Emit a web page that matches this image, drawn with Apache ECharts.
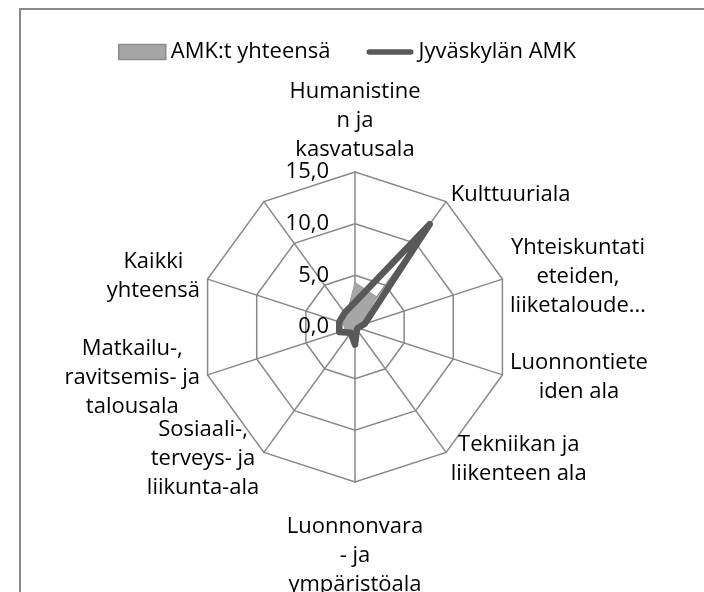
<!DOCTYPE html>
<html>
<head>
<meta charset="utf-8">
<script src="https://cdn.jsdelivr.net/npm/echarts@6/dist/echarts.min.js"></script>
<style>
  html, body { margin: 0; padding: 0; background: #fff; }
  #chart { width: 704px; height: 592px; position: absolute; left: 0; top: 0; }
  #frame { position: absolute; left: 19px; top: 8px; width: 700px; height: 600px;
           border-top: 2px solid #8a8a8a; border-left: 2px solid #8a8a8a; pointer-events: none; }
</style>
</head>
<body>
<div id="chart"></div>
<div id="frame"></div>
<script>
// Categories in clockwise order, starting at the top
const categories = [
  'Humanistine\nn ja\nkasvatusala',
  'Kulttuuriala',
  'Yhteiskuntati\neteiden,\nliiketaloude…',
  'Luonnontiete\niden ala',
  'Tekniikan ja\nliikenteen ala',
  'Luonnonvara\n- ja\nympäristöala',
  'Sosiaali-,\nterveys- ja\nliikunta-ala',
  'Matkailu-,\nravitsemis- ja\ntalousala',
  'Kaikki\nyhteensä',
  ''
];
const seriesNames = ['AMK:t yhteensä', 'Jyväskylän AMK'];
const amkYhteensa = [4.3, 3.6, 0.6, 0.5, 0.7, 0.6, 1.0, 1.0, 1.2, 1.4];
const jyvaskyla   = [2.4, 12.3, 1.0, 0.3, 0.3, 1.7, 0.7, 1.6, 1.6, 1.7];
const axisMin = 0;
const axisMax = 15;
const axisInterval = 5;

// ECharts lays indicators counter-clockwise; reorder so the chart reads clockwise
const order = [0].concat(categories.map((_, i) => i).slice(1).reverse());
const pick = arr => order.map(i => arr[i]);

const FONT = 'Open Sans';
const FS = 22;
const indicators = pick(categories).map((name, k) => {
  const ind = { name: name, min: axisMin, max: axisMax, interval: axisInterval };
  if (k === 0) ind.axisLabel = { show: true };
  return ind;
});

const chart = echarts.init(document.getElementById('chart'), null, { renderer: 'canvas' });
chart.setOption({
  animation: false,
  backgroundColor: '#fff',
  textStyle: { fontFamily: FONT },
  legend: {
    top: 36,
    left: 113,
    itemWidth: 47,
    itemHeight: 15,
    itemGap: 36,
    textStyle: { fontFamily: FONT, fontSize: FS, color: '#000' },
    data: [
      { name: seriesNames[0], icon: 'rect',
        itemStyle: { color: '#a6a6a6', borderColor: '#8c8c8c', borderWidth: 1.5 } },
      { name: seriesNames[1],
        icon: 'path://M3,0 L48,0 A3,3 0 0 1 48,6 L3,6 A3,3 0 0 1 3,0 Z',
        itemStyle: { color: '#595959', borderWidth: 0 } }
    ]
  },
  radar: {
    center: [355, 327],
    radius: 155,
    startAngle: 90,
    shape: 'polygon',
    splitNumber: 3,
    nameGap: 8,
    axisName: {
      color: '#000',
      fontFamily: FONT,
      fontSize: FS,
      formatter: function (name) {
        if (!name) return '';
        const body = name.split('\n').map(l => '{c|' + l + '}').join('\n');
        if (name.indexOf('Luonnonvara') === 0) return '{sp| }\n' + body;
        return body;
      },
      rich: {
        c: { align: 'center', fontFamily: FONT, fontSize: FS, lineHeight: 29, color: '#000' },
        sp: { fontSize: 4, lineHeight: 22 }
      }
    },
    axisLine: { lineStyle: { color: '#888', width: 1.5 } },
    splitLine: { lineStyle: { color: '#888', width: 1.5 } },
    splitArea: { show: false },
    axisTick: { show: false },
    axisLabel: {
      show: false,
      color: '#000',
      fontFamily: FONT,
      fontSize: FS,
      margin: 26,
      formatter: v => Number(v).toFixed(1).replace('.', ',')
    },
    indicator: indicators
  },
  series: [{
    type: 'radar',
    symbol: 'none',
    data: [
      { name: seriesNames[0], value: pick(amkYhteensa),
        lineStyle: { color: '#8c8c8c', width: 1 },
        itemStyle: { color: '#a6a6a6' },
        areaStyle: { color: '#a6a6a6', opacity: 1 } },
      { name: seriesNames[1], value: pick(jyvaskyla),
        lineStyle: { color: '#595959', width: 6.5, cap: 'round', join: 'round' },
        itemStyle: { color: '#595959' } }
    ]
  }]
});
</script>
</body>
</html>
